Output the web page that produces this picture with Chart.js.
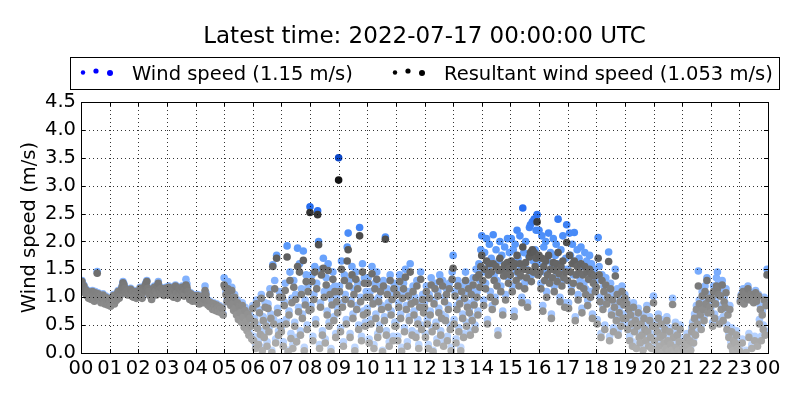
<!DOCTYPE html>
<html>
<head>
<meta charset="utf-8">
<script src="https://cdn.jsdelivr.net/npm/chart.js@4/dist/chart.umd.min.js"></script>
<style>
html, body { margin: 0; padding: 0; background: #fff; }
</style>
</head>
<body>
<canvas id="windChart" width="800" height="400"></canvas>
<script>
// chart data, one value every 2 minutes starting 00:00 (one row per hour)
const titleText = 'Latest time: 2022-07-17 00:00:00 UTC';
const stepMinutes = 2;
const meanWind = '1.15';
const meanResultant = '1.053';
const hourLabels = ['00','01','02','03','04','05','06','07','08','09','10','11','12',
  '13','14','15','16','17','18','19','20','21','22','23','00'];
const yTicks = [0, 0.5, 1, 1.5, 2, 2.5, 3, 3.5, 4, 4.5];

const windSpeed = [
  1.25,1.30,1.18,1.22,1.10,1.15,1.05,1.12,1.00,1.08,1.02,0.98,1.12,1.05,0.95,1.10,1.02,1.46,1.08,0.98,1.04,0.92,1.00,1.06,0.96,0.90,1.02,0.94,0.88,0.98,
  0.92,0.86,1.00,0.95,1.05,0.90,1.02,0.96,1.08,1.12,1.00,1.05,1.15,1.20,1.28,1.24,1.18,1.10,1.14,1.06,1.12,1.08,1.16,1.04,1.10,1.02,1.12,1.06,1.00,1.08,
  1.05,1.12,1.18,1.08,1.00,1.10,1.15,1.22,1.26,1.30,1.18,1.12,1.05,1.10,0.98,1.08,1.15,1.20,1.12,1.06,1.22,1.28,1.15,1.10,1.18,1.08,1.14,1.05,1.12,1.18,
  1.15,1.08,1.20,1.12,1.05,1.18,1.10,1.02,1.15,1.22,1.08,1.00,1.12,1.18,1.06,1.14,1.20,1.10,1.04,1.16,1.32,1.24,1.12,1.05,0.98,1.08,1.02,0.95,1.05,0.98,
  1.02,0.95,1.05,0.98,0.90,1.00,0.94,1.04,0.92,0.98,1.20,1.08,0.96,0.88,0.94,0.85,0.92,0.86,0.80,0.90,0.84,0.78,0.88,0.82,0.76,0.85,0.80,0.74,0.82,0.70,
  1.35,1.22,1.10,0.95,1.28,1.15,1.02,0.88,1.18,0.92,0.80,1.05,0.85,0.72,0.95,0.65,0.88,0.78,0.60,0.90,0.70,0.52,0.82,0.62,0.45,0.75,0.38,0.68,0.55,0.30,
  0.85,0.30,0.62,0.15,0.95,0.50,0.22,0.78,0.40,1.05,0.10,0.65,0.35,0.90,0.55,0.20,0.88,0.45,1.15,0.70,0.05,1.58,0.60,1.30,0.25,1.75,0.80,0.40,1.10,0.55,
  0.45,1.10,0.20,0.92,1.25,0.60,1.92,0.05,0.75,1.45,0.35,0.98,0.15,1.30,0.55,1.05,0.28,1.88,0.82,1.60,0.40,1.15,0.70,1.83,0.10,0.95,1.40,0.50,1.20,0.85,
  2.62,0.85,1.40,0.30,1.05,1.55,0.60,1.25,2.55,2.00,0.15,0.90,1.50,0.40,1.70,1.10,0.25,1.35,0.75,1.60,0.55,1.15,0.08,0.95,1.45,0.65,1.20,0.35,1.00,0.80,
  3.50,1.20,0.45,1.65,0.90,0.20,1.40,1.05,0.60,1.90,2.15,1.30,0.35,0.95,1.55,0.70,1.15,0.10,1.45,0.85,1.25,0.50,2.25,1.00,0.30,1.60,0.75,1.35,0.55,1.10,
  0.80,1.35,0.25,1.10,0.60,1.55,0.95,0.15,1.25,0.70,1.45,0.35,1.00,0.50,1.20,0.85,0.05,1.30,0.65,2.08,0.40,1.15,0.90,0.20,1.40,0.75,1.05,0.30,1.25,0.55,
  0.55,1.15,0.30,0.90,1.40,0.70,0.10,1.05,1.25,0.45,1.50,0.85,0.20,1.10,0.65,1.60,0.95,0.40,1.20,0.75,1.00,0.35,1.30,0.60,0.15,0.90,1.45,0.50,1.05,0.80,
  0.90,0.35,1.20,0.60,0.15,1.05,0.75,1.35,0.45,0.05,0.95,1.25,0.55,0.25,1.10,0.80,1.40,0.40,0.70,1.30,0.20,1.00,0.65,1.15,0.30,0.85,1.25,0.50,0.10,1.45,
  1.75,0.60,1.10,0.25,0.85,1.30,0.45,0.95,0.10,1.20,0.70,0.35,1.05,1.45,0.55,0.90,1.25,0.80,0.40,1.15,0.65,1.35,0.95,0.50,1.50,1.10,0.75,1.60,1.30,1.85,
  2.10,1.45,0.95,1.80,1.25,2.05,0.60,1.55,1.95,1.10,1.70,0.85,2.12,1.40,1.00,1.85,1.30,0.40,1.65,2.00,1.20,1.75,0.75,1.50,1.90,1.05,1.60,2.05,1.35,1.80,
  1.60,2.05,1.20,1.85,0.75,1.95,1.45,2.20,1.70,1.35,2.10,1.55,1.00,2.60,1.80,1.25,2.00,1.50,0.90,1.75,2.25,2.30,1.40,2.35,1.65,2.40,1.85,2.20,2.48,1.60,
  2.20,1.70,1.25,2.10,0.85,1.90,1.45,2.00,1.10,1.65,2.15,1.35,1.80,0.70,1.55,2.05,1.20,1.75,1.95,1.40,2.40,1.60,1.00,1.85,1.30,2.10,1.50,0.90,1.70,2.30,
  1.50,0.90,2.15,1.75,1.20,1.95,1.40,2.16,0.65,1.60,1.85,1.05,1.70,1.30,1.90,0.80,1.55,1.25,1.80,1.15,1.65,0.95,1.45,1.75,1.10,1.60,0.70,1.35,1.50,1.20,
  1.30,0.60,2.07,1.55,1.00,0.35,1.40,0.85,1.20,0.50,1.35,0.95,1.10,1.81,0.30,1.25,0.75,1.05,0.45,0.90,1.50,0.65,1.15,0.40,0.80,1.00,0.55,1.20,0.70,0.95,
  1.05,0.70,0.95,0.50,0.85,0.30,0.75,0.60,0.20,0.90,0.45,0.65,0.15,0.55,0.80,0.35,0.25,0.60,0.40,0.10,0.70,0.50,0.30,0.85,0.45,0.20,0.65,0.35,0.15,0.55,
  1.02,0.30,0.55,0.10,0.45,0.70,0.20,0.35,0.60,0.05,0.40,0.25,0.50,0.15,0.65,0.30,0.08,0.45,0.22,0.12,0.98,0.35,0.05,0.55,0.18,0.40,0.10,0.28,0.50,0.02,
  0.05,0.15,0.25,0.02,0.10,0.35,0.20,0.08,0.30,0.12,0.45,0.55,0.25,0.70,0.40,0.85,0.60,1.47,0.95,0.75,0.50,1.10,0.85,0.65,1.20,0.95,1.35,0.80,1.05,0.90,
  0.80,1.05,0.55,1.20,0.70,0.95,1.35,1.45,1.25,0.60,1.10,0.85,1.30,0.65,1.00,0.90,1.15,0.50,0.75,0.35,0.85,0.20,0.45,0.10,0.30,0.05,0.25,0.40,0.15,0.08,
  0.10,0.95,1.05,0.25,1.15,0.90,1.10,0.05,1.00,1.20,0.35,0.98,1.08,0.15,1.02,0.92,0.30,1.12,0.96,0.20,1.05,0.60,0.85,0.30,0.75,0.50,1.00,0.40,0.90,1.50
];

const resultantSpeed = [
  1.23,1.28,1.16,1.20,1.08,1.13,1.03,1.10,0.98,1.06,1.00,0.96,1.10,1.03,0.93,1.08,1.00,1.43,1.06,0.96,1.02,0.90,0.98,1.04,0.94,0.88,1.00,0.92,0.86,0.96,
  0.90,0.84,0.98,0.93,1.03,0.88,1.00,0.94,1.06,1.10,0.98,1.03,1.13,1.18,1.26,1.22,1.16,1.08,1.12,1.04,1.10,1.06,1.14,1.02,1.08,1.00,1.10,1.04,0.98,1.06,
  1.03,1.10,1.16,1.06,0.98,1.08,1.13,1.20,1.24,1.28,1.16,1.10,1.03,1.08,0.96,1.06,1.13,1.18,1.10,1.04,1.20,1.25,1.13,1.08,1.16,1.06,1.12,1.03,1.10,1.16,
  1.13,1.06,1.18,1.10,1.03,1.16,1.08,1.00,1.13,1.20,1.06,0.98,1.10,1.16,1.04,1.12,1.18,1.08,1.02,1.14,1.22,1.18,1.10,1.03,0.96,1.06,1.00,0.93,1.03,0.96,
  1.00,0.93,1.03,0.96,0.88,0.98,0.92,1.02,0.90,0.96,1.12,1.04,0.94,0.86,0.92,0.83,0.90,0.84,0.78,0.88,0.82,0.76,0.86,0.80,0.74,0.83,0.78,0.72,0.80,0.68,
  1.22,1.18,1.05,0.92,1.15,1.10,0.98,0.85,1.12,0.88,0.76,1.00,0.80,0.68,0.90,0.60,0.84,0.72,0.55,0.85,0.64,0.46,0.76,0.56,0.40,0.70,0.32,0.62,0.48,0.25,
  0.80,0.22,0.56,0.08,0.88,0.44,0.15,0.72,0.33,0.98,0.04,0.58,0.28,0.82,0.48,0.12,0.80,0.38,1.05,0.62,0.01,1.55,0.52,1.15,0.18,1.70,0.72,0.32,1.00,0.48,
  0.38,1.00,0.12,0.85,1.12,0.52,1.72,0.02,0.68,1.30,0.26,0.90,0.08,1.18,0.48,0.96,0.20,1.55,0.74,1.45,0.32,1.05,0.62,1.66,0.04,0.86,1.28,0.42,1.10,0.76,
  2.52,0.78,1.28,0.22,0.96,1.45,0.52,1.15,2.48,1.94,0.08,0.82,1.40,0.32,1.52,1.00,0.18,1.22,0.68,1.48,0.48,1.05,0.02,0.86,1.32,0.58,1.10,0.28,0.92,0.72,
  3.10,1.10,0.38,1.50,0.82,0.12,1.30,0.96,0.52,1.65,1.85,1.20,0.28,0.88,1.40,0.62,1.05,0.04,1.32,0.78,1.15,0.42,2.10,0.92,0.22,1.45,0.68,1.25,0.48,1.00,
  0.72,1.25,0.18,1.00,0.52,1.42,0.88,0.08,1.15,0.62,1.32,0.28,0.92,0.42,1.10,0.78,0.02,1.20,0.58,2.04,0.32,1.05,0.82,0.12,1.30,0.68,0.96,0.22,1.15,0.48,
  0.48,1.05,0.22,0.82,1.28,0.62,0.03,0.98,1.15,0.38,1.36,0.78,0.12,1.02,0.58,1.45,0.88,0.32,1.10,0.68,0.92,0.28,1.20,0.52,0.08,0.82,1.32,0.42,0.96,0.72,
  0.82,0.28,1.10,0.52,0.08,0.98,0.68,1.22,0.38,0.02,0.88,1.15,0.48,0.18,1.02,0.72,1.28,0.32,0.62,1.20,0.12,0.92,0.58,1.05,0.22,0.78,1.15,0.42,0.04,1.32,
  1.52,0.52,1.02,0.18,0.78,1.20,0.38,0.88,0.04,1.10,0.62,0.28,0.98,1.30,0.48,0.82,1.15,0.72,0.32,1.05,0.58,1.22,0.86,0.42,1.35,1.00,0.68,1.40,1.18,1.55,
  1.75,1.30,0.85,1.50,1.15,1.65,0.52,1.40,1.60,1.00,1.45,0.78,1.60,1.30,0.92,1.55,1.20,0.32,1.48,1.70,1.10,1.50,0.68,1.38,1.58,0.95,1.42,1.62,1.25,1.52,
  1.40,1.65,1.10,1.55,0.65,1.60,1.30,1.75,1.45,1.20,1.60,1.38,0.90,1.90,1.50,1.15,1.62,1.35,0.82,1.48,1.72,1.80,1.28,1.85,1.45,1.80,1.55,1.70,2.35,1.40,
  1.75,1.45,1.15,1.70,0.75,1.55,1.30,1.65,1.00,1.40,1.75,1.25,1.50,0.62,1.35,1.62,1.10,1.48,1.60,1.28,1.80,1.42,0.92,1.55,1.20,1.65,1.35,0.82,1.45,1.98,
  1.30,0.80,1.75,1.45,1.10,1.60,1.25,1.65,0.58,1.40,1.55,0.95,1.45,1.20,1.60,0.72,1.40,1.15,1.55,1.05,1.45,0.85,1.32,1.50,1.00,1.42,0.62,1.25,1.38,1.10,
  1.18,0.52,1.70,1.40,0.92,0.28,1.30,0.78,1.10,0.42,1.22,0.88,1.00,1.64,0.22,1.15,0.68,0.95,0.38,0.82,1.38,0.58,1.05,0.32,0.72,0.92,0.48,1.10,0.62,0.86,
  0.98,0.62,0.88,0.42,0.78,0.22,0.68,0.52,0.12,0.82,0.38,0.58,0.08,0.48,0.72,0.28,0.18,0.52,0.32,0.05,0.62,0.42,0.22,0.78,0.38,0.12,0.58,0.28,0.08,0.48,
  0.90,0.22,0.48,0.04,0.38,0.62,0.12,0.28,0.52,0.01,0.32,0.18,0.42,0.08,0.58,0.22,0.02,0.38,0.15,0.05,0.87,0.28,0.01,0.48,0.10,0.32,0.04,0.20,0.42,0.00,
  0.01,0.08,0.18,0.00,0.04,0.28,0.12,0.02,0.22,0.05,0.38,0.48,0.18,0.62,0.32,0.78,0.52,1.20,0.88,0.68,0.42,1.02,0.78,0.58,1.10,0.88,1.30,0.72,0.98,0.82,
  0.72,0.98,0.48,1.10,0.62,0.88,1.20,1.15,1.05,0.52,1.02,0.78,1.22,0.58,0.92,0.82,1.08,0.42,0.68,0.28,0.78,0.12,0.38,0.04,0.22,0.00,0.18,0.32,0.08,0.02,
  0.04,0.92,1.02,0.18,1.10,0.88,1.06,0.01,0.97,1.15,0.28,0.95,1.05,0.08,0.99,0.90,0.22,1.08,0.93,0.12,1.02,0.52,0.78,0.22,0.68,0.42,0.95,0.32,0.85,1.40
];

const FONT = "'DejaVu Sans', sans-serif";

function toPoints(arr) {
  return arr.map((v, i) => ({ x: i * stepMinutes / 60, y: v }));
}

// colour of a dot depends on its value (darker = stronger)
function mix(stops, v) {
  if (v <= stops[0][0]) return stops[0][1];
  for (let i = 1; i < stops.length; i++) {
    if (v <= stops[i][0]) {
      const a = stops[i - 1], b = stops[i];
      const t = (v - a[0]) / (b[0] - a[0]);
      return a[1].map((c, k) => Math.round(c + (b[1][k] - c) * t));
    }
  }
  return stops[stops.length - 1][1];
}
const blueStops = [[0, [195, 218, 255]], [1, [150, 190, 255]], [2, [85, 150, 250]], [2.6, [40, 110, 240]], [3.5, [10, 70, 200]]];
const greyStops = [[0, [178, 178, 178]], [1, [132, 132, 132]], [2, [80, 80, 80]], [3.2, [15, 15, 15]]];
function blueColour(ctx) {
  const c = mix(blueStops, ctx.raw ? ctx.raw.y : 1);
  return 'rgb(' + c.join(',') + ')';
}
function greyColour(ctx) {
  const c = mix(greyStops, ctx.raw ? ctx.raw.y : 1);
  return 'rgb(' + c.join(',') + ')';
}

// dotted grid over the points, inner ticks and the box round the plot
const frameAndGrid = {
  id: 'frameAndGrid',
  afterDatasetsDraw(chart) {
    const { ctx, chartArea: a, scales: { x, y } } = chart;
    ctx.save();
    ctx.strokeStyle = '#000';
    ctx.lineWidth = 0.8;
    ctx.setLineDash([1, 3]);
    ctx.beginPath();
    for (let h = 1; h < hourLabels.length - 1; h++) {
      const px = Math.round(x.getPixelForValue(h)) + 0.5;
      ctx.moveTo(px, a.top); ctx.lineTo(px, a.bottom);
    }
    for (let k = 1; k < yTicks.length - 1; k++) {
      const py = Math.round(y.getPixelForValue(yTicks[k])) + 0.5;
      ctx.moveTo(a.left, py); ctx.lineTo(a.right, py);
    }
    ctx.stroke();
    ctx.setLineDash([]);
    ctx.lineWidth = 1;
    ctx.beginPath();
    for (let h = 1; h < hourLabels.length - 1; h++) {
      const px = Math.round(x.getPixelForValue(h)) + 0.5;
      ctx.moveTo(px, a.bottom); ctx.lineTo(px, a.bottom - 4);
      ctx.moveTo(px, a.top); ctx.lineTo(px, a.top + 4);
    }
    for (let k = 1; k < yTicks.length - 1; k++) {
      const py = Math.round(y.getPixelForValue(yTicks[k])) + 0.5;
      ctx.moveTo(a.left, py); ctx.lineTo(a.left + 4, py);
      ctx.moveTo(a.right, py); ctx.lineTo(a.right - 4, py);
    }
    ctx.stroke();
    ctx.strokeRect(Math.round(a.left) + 0.5, Math.round(a.top) + 0.5,
      Math.round(a.right - a.left), Math.round(a.bottom - a.top));
    ctx.restore();
  }
};

// title and the boxed legend with three dots per entry
const headerLegend = {
  id: 'headerLegend',
  afterDraw(chart) {
    const ctx = chart.ctx;
    const a = chart.chartArea;
    const cx = (a.left + a.right) / 2;
    ctx.save();
    ctx.fillStyle = '#000';
    ctx.textAlign = 'center';
    ctx.textBaseline = 'alphabetic';
    ctx.font = '23px ' + FONT;
    ctx.fillText(titleText, cx, 43);

    ctx.strokeStyle = '#000';
    ctx.lineWidth = 1;
    ctx.strokeRect(70.5, 57.5, 709, 32);

    const items = [
      { colour: '#0000ff', label: chart.data.datasets[0].label, x: 80 },
      { colour: '#000000', label: chart.data.datasets[1].label, x: 392 }
    ];
    const dots = [[3, 72.5, 2.2], [16, 71, 2.6], [30, 73, 3.0]];
    ctx.font = '19.5px ' + FONT;
    ctx.textAlign = 'left';
    items.forEach(it => {
      ctx.fillStyle = it.colour;
      dots.forEach(d => {
        ctx.beginPath();
        ctx.arc(it.x + d[0], d[1], d[2], 0, Math.PI * 2);
        ctx.fill();
      });
      ctx.fillStyle = '#000';
      ctx.fillText(it.label, it.x + 52, 80);
    });
    ctx.restore();
  }
};

new Chart(document.getElementById('windChart').getContext('2d'), {
  type: 'scatter',
  data: {
    datasets: [
      {
        label: 'Wind speed (' + meanWind + ' m/s)',
        data: toPoints(windSpeed),
        backgroundColor: blueColour,
        pointRadius: 3.8,
        pointBorderWidth: 0,
        pointHoverRadius: 3.8,
        order: 2
      },
      {
        label: 'Resultant wind speed (' + meanResultant + ' m/s)',
        data: toPoints(resultantSpeed),
        backgroundColor: greyColour,
        pointRadius: 3.8,
        pointBorderWidth: 0,
        pointHoverRadius: 3.8,
        order: 1
      }
    ]
  },
  options: {
    responsive: false,
    animation: false,
    devicePixelRatio: 1,
    layout: { padding: { top: 102, right: 32, left: 0, bottom: 0 } },
    plugins: {
      legend: { display: false },
      title: { display: false },
      tooltip: { enabled: false }
    },
    scales: {
      x: {
        type: 'linear',
        min: 0,
        max: 24,
        grid: { display: false, drawTicks: false },
        border: { display: false },
        afterFit(scale) { scale.height = 47; },
        ticks: {
          stepSize: 1,
          autoSkip: false,
          maxRotation: 0,
          padding: 4,
          color: '#000',
          font: { family: FONT, size: 19.5 },
          callback: v => hourLabels[v]
        }
      },
      y: {
        min: 0,
        max: 4.5,
        grid: { display: false, drawTicks: false },
        border: { display: false },
        afterFit(scale) { scale.width = 81; },
        afterBuildTicks(scale) { scale.ticks = yTicks.map(v => ({ value: v })); },
        ticks: {
          padding: 5,
          color: '#000',
          font: { family: FONT, size: 19.5 },
          callback: v => v.toFixed(1)
        },
        title: {
          display: true,
          text: 'Wind speed (m/s)',
          color: '#000',
          font: { family: FONT, size: 19.5 },
          padding: { top: 18, bottom: 0 }
        }
      }
    }
  },
  plugins: [frameAndGrid, headerLegend]
});
</script>
</body>
</html>
